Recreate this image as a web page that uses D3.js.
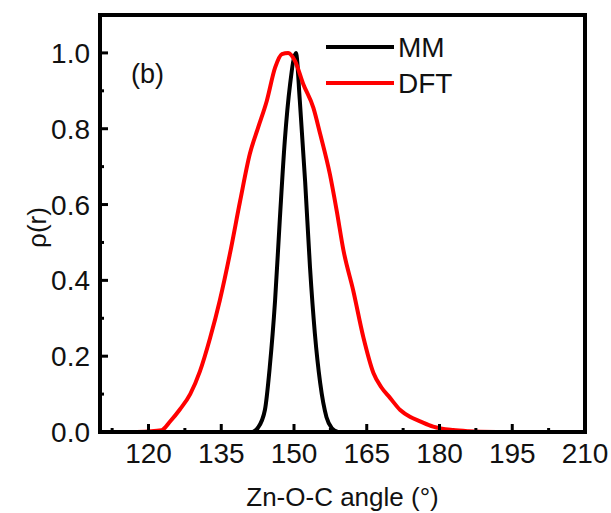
<!DOCTYPE html>
<html>
<head>
<meta charset="utf-8">
<script src="https://cdn.jsdelivr.net/npm/d3@7"></script>
<style>
  body { margin: 0; background: #fff; }
  svg text { font-family: "Liberation Sans", Arial, sans-serif; fill: #111; }
</style>
</head>
<body>
<div id="chart"></div>
<script>
// angle (deg) / rho(r)
const mmAngle = [141.5, 142.5, 144.0, 145.0, 146.1, 147.1, 148.1, 149.2, 150.4, 151.2, 152.3, 153.3, 154.3, 155.4, 156.7, 157.8, 159.0];
const mmRho   = [0.0, 0.01, 0.058, 0.171, 0.347, 0.566, 0.768, 0.918, 1.0, 0.874, 0.66, 0.434, 0.26, 0.129, 0.039, 0.01, 0.0];

const dftAngle = [117.6, 122.7, 124.4, 126.5, 128.6, 130.6, 132.7, 134.7, 136.8, 138.9, 140.9, 142.6, 144.4, 146.1, 147.5, 148.8, 150.2, 151.9, 154.0, 155.4, 157.4, 158.8, 160.2, 162.2, 164.3, 166.4, 168.0, 169.8, 171.9, 173.9, 176.0, 178.7, 182.8, 186.0, 191.8];
const dftRho   = [0.0, 0.005, 0.027, 0.06, 0.1, 0.16, 0.248, 0.347, 0.471, 0.61, 0.734, 0.803, 0.874, 0.961, 0.997, 1.0, 0.979, 0.918, 0.855, 0.786, 0.68, 0.584, 0.479, 0.374, 0.25, 0.155, 0.118, 0.09, 0.058, 0.04, 0.028, 0.014, 0.005, 0.002, 0.0];

const xTicks = [120, 135, 150, 165, 180, 195, 210];
const yTicks = [0.0, 0.2, 0.4, 0.6, 0.8, 1.0];
const seriesNames = ["MM", "DFT"];
const seriesColors = ["#000000", "#ff0000"];

const W = 611, H = 513;
const m = {left: 100, right: 26, top: 15, bottom: 81};

const svg = d3.select("#chart").append("svg").attr("width", W).attr("height", H);

const x = d3.scaleLinear().domain([110, 210]).range([m.left, W - m.right]);
const y = d3.scaleLinear().domain([0, 1.1]).range([H - m.bottom, m.top]);

const line = d3.line().x(d => x(d[0])).y(d => y(d[1])).curve(d3.curveMonotoneX);
const series = [d3.zip(mmAngle, mmRho), d3.zip(dftAngle, dftRho)];

// MM first, DFT on top
series.forEach((s, i) => {
    svg.append("path").datum(s)
        .attr("fill", "none").attr("stroke", seriesColors[i])
        .attr("stroke-width", 4).attr("stroke-linejoin", "round")
        .attr("d", line);
});

// ticks inward
const xMinor = d3.range(112.5, 210, 15);
const yMinor = d3.range(0.1, 1.1, 0.2);
const bx = y(0), ly = x(110);

const tickG = svg.append("g").attr("stroke", "#000").attr("stroke-width", 3);
xTicks.forEach(t => tickG.append("line").attr("x1", x(t)).attr("x2", x(t)).attr("y1", bx).attr("y2", bx - 8));
xMinor.forEach(t => tickG.append("line").attr("x1", x(t)).attr("x2", x(t)).attr("y1", bx).attr("y2", bx - 4));
yTicks.forEach(t => tickG.append("line").attr("x1", ly).attr("x2", ly + 8).attr("y1", y(t)).attr("y2", y(t)));
yMinor.forEach(t => tickG.append("line").attr("x1", ly).attr("x2", ly + 4).attr("y1", y(t)).attr("y2", y(t)));

// frame
svg.append("rect").attr("x", m.left).attr("y", m.top)
    .attr("width", W - m.left - m.right).attr("height", H - m.top - m.bottom)
    .attr("fill", "none").attr("stroke", "#000").attr("stroke-width", 4);

// tick labels
svg.selectAll(".xl").data(xTicks).enter().append("text")
    .attr("x", d => x(d)).attr("y", bx + 31).attr("text-anchor", "middle")
    .style("font-size", "28px").text(d => d);
svg.selectAll(".yl").data(yTicks).enter().append("text")
    .attr("x", ly - 10).attr("y", d => y(d) + 10).attr("text-anchor", "end")
    .style("font-size", "28px").text(d => d.toFixed(1));

// axis titles
svg.append("text").attr("x", (m.left + W - m.right) / 2).attr("y", 506)
    .attr("text-anchor", "middle").style("font-size", "26px").text("Zn-O-C angle (°)");
svg.append("text").attr("transform", `translate(46,${(m.top + H - m.bottom) / 2 + 4}) rotate(-90)`)
    .attr("text-anchor", "middle").style("font-size", "26px").text("ρ(r)");

// panel label
svg.append("text").attr("x", 131).attr("y", 83).style("font-size", "27px").text("(b)");

// legend
seriesNames.forEach((name, i) => {
    const ly0 = 47 + i * 36;
    svg.append("line").attr("x1", 326).attr("x2", 394).attr("y1", ly0).attr("y2", ly0)
        .attr("stroke", seriesColors[i]).attr("stroke-width", 4);
    svg.append("text").attr("x", 398).attr("y", ly0 + 10).style("font-size", "28px").text(name);
});
</script>
</body>
</html>
